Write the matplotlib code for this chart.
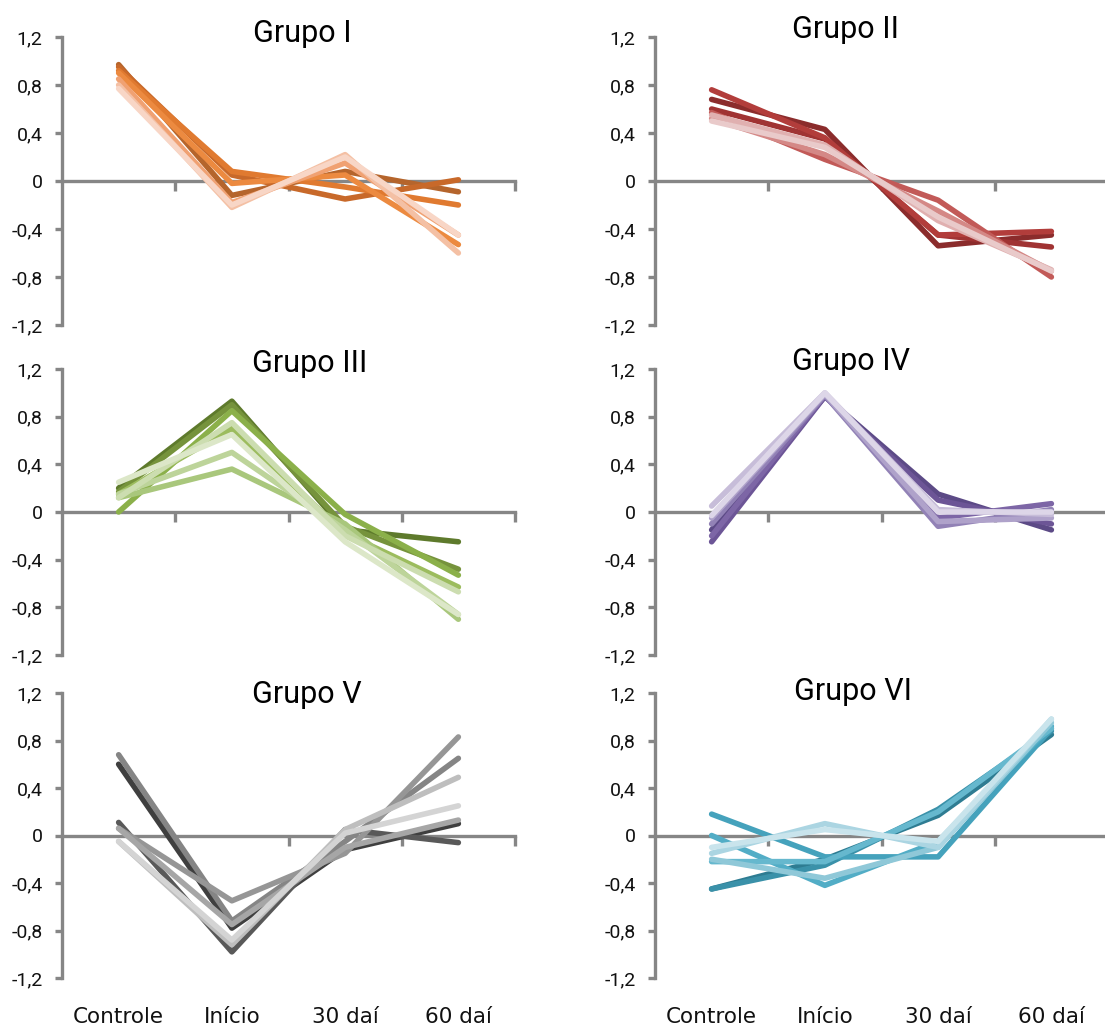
import numpy as np
import matplotlib
matplotlib.use('Agg')
import matplotlib.pyplot as plt

categorias = ['Controle', 'Início', '30 daí', '60 daí']
yticks = [-1.2, -0.8, -0.4, 0, 0.4, 0.8, 1.2]
ytick_labels = ['-1,2', '-0,8', '-0,4', '0', '0,4', '0,8', '1,2']

# Grupo I (laranja)
grupo1 = [[0.97, -0.12, 0.08, -0.09],
          [0.95, 0.05, -0.15, 0.01],
          [0.92, 0.08, -0.05, -0.20],
          [0.90, -0.02, 0.05, -0.53],
          [0.85, -0.18, 0.15, -0.45],
          [0.80, -0.22, 0.22, -0.60],
          [0.77, -0.20, 0.20, -0.45]]
cores1 = ['#B5652C', '#C8692A', '#E07A30', '#EC8A40', '#F0A172', '#F4C0A4', '#F8D6C6']

# Grupo II (vermelho)
grupo2 = [[0.68, 0.43, -0.54, -0.45],
          [0.60, 0.35, -0.45, -0.55],
          [0.76, 0.36, -0.45, -0.42],
          [0.57, 0.18, -0.16, -0.80],
          [0.52, 0.22, -0.25, -0.75],
          [0.55, 0.30, -0.33, -0.74],
          [0.50, 0.28, -0.30, -0.75]]
cores2 = ['#8B2C2C', '#A03333', '#B23D3B', '#C25A58', '#D48886', '#E0B0B0', '#E9CACA']

# Grupo III (verde)
grupo3 = [[0.20, 0.93, -0.15, -0.25],
          [0.17, 0.90, -0.12, -0.48],
          [0.00, 0.85, -0.02, -0.53],
          [0.15, 0.70, -0.18, -0.63],
          [0.12, 0.36, -0.10, -0.90],
          [0.15, 0.50, -0.15, -0.86],
          [0.12, 0.75, -0.20, -0.67],
          [0.25, 0.65, -0.25, -0.86]]
cores3 = ['#5E7A2C', '#76933C', '#8BB04A', '#9CBC5E', '#A9C77C', '#BDD49A', '#CCDDB0', '#DCE7C8']

# Grupo IV (roxo)
grupo4 = [[-0.15, 0.97, 0.15, -0.15],
          [-0.25, 0.97, 0.10, -0.10],
          [-0.20, 0.98, -0.05, 0.07],
          [-0.10, 0.98, -0.12, 0.02],
          [-0.05, 0.99, -0.08, -0.05],
          [0.05, 1.00, 0.02, -0.02],
          [-0.03, 1.00, 0.00, 0.00]]
cores4 = ['#5C4A86', '#6C5596', '#7D66A6', '#9282B6', '#AFA2CA', '#C7BDD9', '#DDD6E8']

# Grupo V (cinza)
grupo5 = [[0.60, -0.78, -0.12, 0.10],
          [0.11, -0.98, 0.05, -0.06],
          [0.68, -0.72, -0.05, 0.65],
          [0.06, -0.55, -0.15, 0.83],
          [0.06, -0.75, -0.10, 0.13],
          [-0.05, -0.92, 0.05, 0.49],
          [-0.05, -0.88, 0.02, 0.25]]
cores5 = ['#3F3F3F', '#595959', '#858585', '#969696', '#A6A6A6', '#BEBEBE', '#D4D4D4']

# Grupo VI (azul)
grupo6 = [[-0.45, -0.20, 0.17, 0.85],
          [-0.45, -0.25, 0.22, 0.88],
          [0.18, -0.18, -0.18, 0.90],
          [0.00, -0.42, -0.05, 0.92],
          [-0.22, -0.22, 0.20, 0.90],
          [-0.20, -0.36, -0.10, 0.95],
          [-0.15, 0.10, -0.10, 0.98],
          [-0.10, 0.05, -0.05, 0.98]]
cores6 = ['#2E7C92', '#3A91A9', '#45A2BC', '#52ADC6', '#66B8CE', '#8FC8D8', '#ABD5E2', '#C9E4EC']

grupos = [grupo1, grupo2, grupo3, grupo4, grupo5, grupo6]
cores = [cores1, cores2, cores3, cores4, cores5, cores6]
titulos = ['Grupo I', 'Grupo II', 'Grupo III', 'Grupo IV', 'Grupo V', 'Grupo VI']

W, H = 1105, 1028
eixo_cor = '#868686'
fonte = ['Roboto', 'DejaVu Sans']

# posicoes em pixels: (esquerda, topo, base)
lefts = [62, 655]
rows = [(37, 325), (369, 655), (693, 978)]
largura = 453
# titulos: (centro x, linha de base y) em pixels
tit_pos = [(302, 42), (846, 38), (310, 372), (851, 370), (307, 703), (853, 700)]


def desenha(ax, dados, cor, mostra_cat):
    x = np.arange(len(categorias)) + 0.5
    for serie, c in zip(dados, cor):
        ax.plot(x, serie, color=c, lw=4.0, solid_joinstyle='round',
                solid_capstyle='round', zorder=3)
    ax.set_xlim(0, 4)
    ax.set_ylim(-1.2, 1.2)
    for s in ['top', 'right']:
        ax.spines[s].set_visible(False)
    ax.spines['bottom'].set_position(('data', 0))
    for s in ['left', 'bottom']:
        ax.spines[s].set_color(eixo_cor)
        ax.spines[s].set_linewidth(2.4)
        ax.spines[s].set_zorder(2)
    ax.set_xticks([1, 2, 3, 4])
    ax.set_xticklabels([])
    ax.tick_params(axis='x', direction='out', length=7, width=2.4, color=eixo_cor)
    ax.set_yticks(yticks)
    ax.set_yticklabels(ytick_labels, family=fonte, fontsize=14, color='#111111')
    ax.tick_params(axis='y', direction='out', length=5, width=2.4, color=eixo_cor, pad=9)
    ax.patch.set_alpha(0)
    if mostra_cat:
        for xi, nome in zip(x, categorias):
            ax.text(xi, -0.137, nome, transform=ax.get_xaxis_transform(),
                    ha='center', va='center', fontsize=15.5, color='#111111',
                    family='DejaVu Sans')


fig = plt.figure(figsize=(W / 100, H / 100), dpi=100)
for i in range(6):
    r, c = divmod(i, 2)
    top, bot = rows[r]
    ax = fig.add_axes([lefts[c] / W, 1 - bot / H, largura / W, (bot - top) / H])
    desenha(ax, grupos[i], cores[i], r == 2)
    tx, ty = tit_pos[i]
    fig.text(tx / W, 1 - ty / H, titulos[i], ha='center', va='baseline',
             fontsize=22, family=fonte, color='black')

fig.savefig('out.png', dpi=100)
